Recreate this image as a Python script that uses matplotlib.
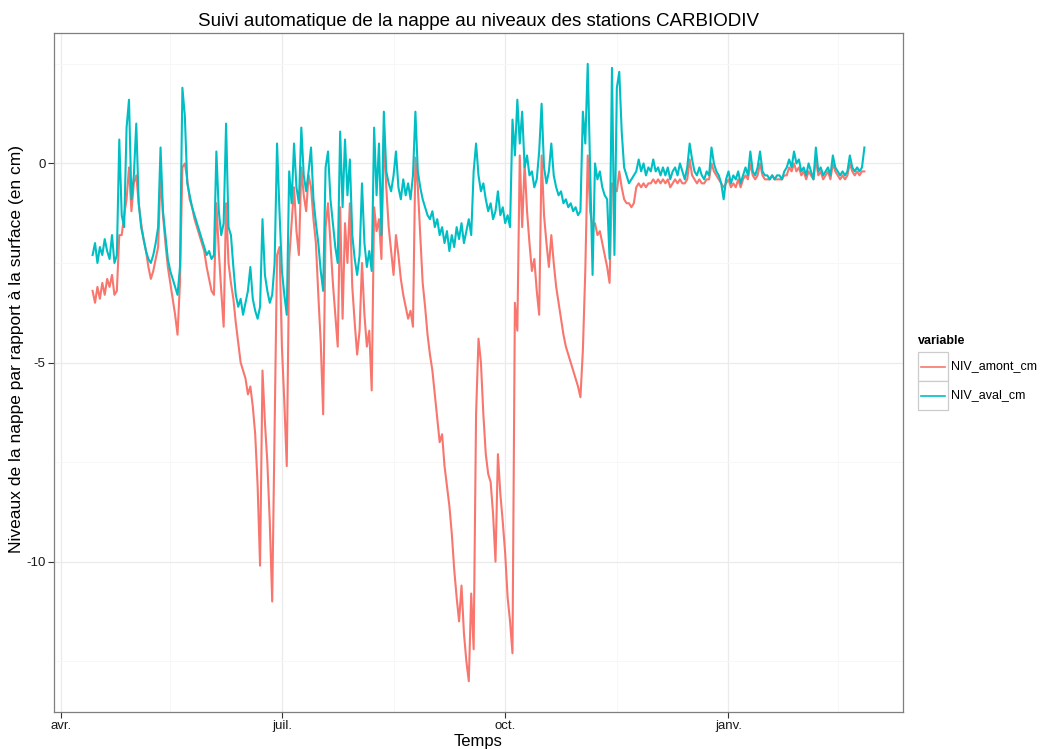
import numpy as np
import pandas as pd
import matplotlib
matplotlib.use("Agg")
import matplotlib.pyplot as plt
from matplotlib.patches import Rectangle
from matplotlib.lines import Line2D

plt.rcParams['font.family'] = ['Liberation Sans', 'DejaVu Sans']
plt.rcParams['axes.unicode_minus'] = False

# daily readings, starting 2014-04-14
start_date = "2014-04-14"

niv_aval_cm = [
    -2.3, -2.0, -2.5, -2.1, -2.3, -1.9, -2.2, -2.4, -1.8, -2.5,
    -2.3, 0.6, -1.3, -1.6, 0.9, 1.6, -0.9, -0.3, 1.0, -1.0,
    -1.6, -1.9, -2.2, -2.4, -2.5, -2.3, -2.0, -1.6, 0.4, -1.2,
    -1.8, -2.4, -2.7, -2.9, -3.1, -3.3, -2.6, 1.9, 1.2, -0.5,
    -0.8, -1.1, -1.3, -1.5, -1.7, -1.9, -2.1, -2.3, -2.2, -2.4,
    -2.3, 0.3, -1.2, -1.8, -1.5, 1.0, -1.6, -1.8, -2.6, -3.3,
    -3.6, -3.4, -3.8, -3.5, -3.2, -2.6, -3.4, -3.7, -3.9, -3.6,
    -1.4, -2.8, -3.2, -3.5, -3.3, -2.5, 0.5, -1.2, -2.7, -3.3,
    -3.8, -0.2, -1.0, 0.5, -0.6, -1.0, 0.9, -0.3, -0.7, -0.2,
    0.4, -0.9, -1.5, -2.0, -2.7, -3.2, -0.1, 0.3, -0.9, -1.5,
    -2.1, -2.5, 0.8, -1.1, 0.6, -0.8, 0.1, -1.8, -2.4, -2.8,
    -2.3, -0.5, -2.0, -2.6, -2.2, -2.7, 0.9, -0.8, 0.5, -1.8,
    1.3, -0.2, -0.5, -0.7, -0.3, 0.3, -0.6, -0.9, -0.4, -0.8,
    -0.5, -0.9, -0.3, 1.3, -0.2, -0.6, -0.9, -1.1, -1.3, -1.4,
    -1.2, -1.6, -1.4, -1.8, -1.6, -2.0, -1.7, -2.2, -1.8, -2.1,
    -1.6, -1.9, -1.5, -2.0, -1.7, -1.4, -1.8, -0.2, 0.5, -0.3,
    -0.7, -0.5, -0.9, -1.2, -1.0, -1.4, -1.2, -0.7, -1.3, -1.1,
    -1.5, -1.3, -1.6, 1.1, 0.2, 1.6, 0.5, 1.3, -0.1, 0.2,
    -0.3, -0.2, -0.6, -0.4, 0.3, 1.5, -0.1, -0.5, -0.2, 0.5,
    -0.3, -0.6, -0.8, -0.7, -1.0, -0.9, -1.1, -1.0, -1.2, -1.1,
    -1.3, -1.2, 1.3, 0.5, 2.5, -0.2, -2.8, 0.0, -0.4, -0.2,
    -0.6, -0.8, -0.9, -2.4, 2.4, -2.3, 1.9, 2.3, 0.8, -0.1,
    -0.3, -0.5, -0.4, -0.3, -0.2, 0.1, -0.2, 0.0, -0.3, -0.1,
    -0.2, 0.1, -0.2, -0.1, -0.3, -0.1, -0.3, -0.1, -0.4, -0.2,
    -0.1, -0.3, 0.0, -0.2, -0.4, -0.1, 0.5, 0.1, -0.2, -0.3,
    -0.1, -0.3, -0.4, -0.2, -0.3, 0.4, 0.0, -0.2, -0.3, -0.5,
    -0.9, -0.4, -0.2, -0.5, -0.3, -0.4, -0.2, -0.5, -0.3, -0.1,
    -0.3, 0.3, -0.2, -0.3, -0.1, 0.3, -0.2, -0.3, -0.3, -0.4,
    -0.3, -0.4, -0.3, -0.3, -0.4, -0.2, -0.1, 0.1, -0.1, 0.3,
    0.0, 0.1, -0.2, -0.1, -0.3, 0.0, -0.2, -0.4, 0.4, -0.2,
    -0.1, -0.3, -0.2, -0.1, -0.3, 0.2, -0.1, -0.2, -0.3, -0.2,
    -0.3, -0.2, 0.2, -0.1, -0.2, -0.1, -0.2, -0.1, 0.4,
]

niv_amont_cm = [
    -3.2, -3.5, -3.1, -3.4, -3.0, -3.3, -2.9, -3.1, -2.8, -3.3,
    -3.2, -1.8, -1.8, -1.3, -0.9, -0.1, -1.2, -0.5, -0.3, -1.0,
    -1.5, -1.9, -2.2, -2.6, -2.9, -2.7, -2.4, -2.1, -0.3, -1.3,
    -2.0, -2.6, -3.0, -3.4, -3.8, -4.3, -3.0, -0.1, 0.0, -0.4,
    -0.9, -1.1, -1.4, -1.6, -1.8, -2.0, -2.2, -2.6, -2.9, -3.2,
    -3.3, -1.0, -2.2, -3.2, -4.1, -1.0, -2.5, -3.0, -3.4, -4.0,
    -4.5, -5.0, -5.2, -5.4, -5.8, -5.6, -6.1, -6.8, -8.1, -10.1,
    -5.2, -6.5, -7.5, -9.0, -11.0, -6.6, -2.3, -2.1, -4.6, -6.0,
    -7.6, -2.4, -1.5, -0.6, -1.7, -2.3, -0.1, -0.8, -1.2, -0.3,
    -0.6, -1.4, -2.0, -3.3, -4.5, -6.3, -1.6, -1.0, -2.0, -3.0,
    -3.8, -4.6, -1.1, -3.9, -1.5, -2.5, -1.0, -3.1, -4.0, -4.8,
    -4.2, -2.5, -3.8, -4.6, -4.2, -5.7, -1.1, -1.7, -1.4, -2.4,
    0.7, -0.6, -1.6, -2.2, -2.8, -1.8, -2.3, -2.9, -3.3, -3.6,
    -3.9, -3.7, -4.1, 0.15, -0.6, -1.8, -3.0, -3.6, -4.3, -4.8,
    -5.2, -5.8, -6.4, -7.0, -6.8, -7.6, -8.1, -8.6, -9.3, -10.2,
    -10.9, -11.5, -10.6, -11.8, -12.5, -13.0, -10.8, -12.2, -6.3, -4.4,
    -5.0, -6.3, -7.3, -7.8, -8.0, -8.8, -10.0, -7.3, -8.3, -9.0,
    -9.8, -10.9, -11.5, -12.3, -3.5, -4.2, 0.2, -1.6, 0.0, -1.2,
    -2.0, -2.7, -2.4, -3.2, -3.8, 0.2, -1.3, -2.0, -2.6, -1.8,
    -2.5, -3.1, -3.5, -3.9, -4.3, -4.6, -4.8, -5.0, -5.2, -5.4,
    -5.6, -5.87, -4.7, -2.7, 0.2, -1.2, -1.6, -1.5, -1.8, -1.7,
    -2.0, -2.3, -2.6, -3.0, -0.5, -0.6, -0.7, -0.2, -0.6, -0.9,
    -1.0, -1.0, -1.1, -1.0, -0.6, -0.5, -0.6, -0.5, -0.6, -0.5,
    -0.5, -0.4, -0.5, -0.4, -0.5, -0.4, -0.5, -0.4, -0.6, -0.5,
    -0.4, -0.5, -0.4, -0.5, -0.5, -0.4, 0.1, -0.3, -0.4, -0.5,
    -0.4, -0.5, -0.5, -0.4, -0.4, 0.0, -0.2, -0.3, -0.4, -0.5,
    -0.6, -0.5, -0.4, -0.6, -0.5, -0.6, -0.4, -0.6, -0.4, -0.3,
    -0.4, 0.0, -0.3, -0.4, -0.3, 0.0, -0.3, -0.4, -0.4, -0.4,
    -0.3, -0.4, -0.4, -0.4, -0.4, -0.3, -0.3, -0.1, -0.2, 0.0,
    -0.2, -0.1, -0.3, -0.2, -0.4, -0.2, -0.3, -0.4, 0.1, -0.3,
    -0.2, -0.4, -0.3, -0.2, -0.4, 0.0, -0.2, -0.3, -0.4, -0.3,
    -0.4, -0.3, 0.0, -0.2, -0.3, -0.2, -0.3, -0.2, -0.2,
]

series_names = ["NIV_amont_cm", "NIV_aval_cm"]
series_colors = ["#F8766D", "#00BFC4"]
tick_dates = ["2014-04-01", "2014-07-01", "2014-10-01", "2015-01-01"]
tick_labels = ["avr.", "juil.", "oct.", "janv."]
minor_dates = ["2014-05-16", "2014-08-16", "2014-11-16", "2015-02-15"]

W, H = 1040, 749
dates = pd.date_range(start_date, periods=len(niv_aval_cm), freq="D")

fig = plt.figure(figsize=(W / 100, H / 100), dpi=100)
ax = fig.add_axes([54 / W, 37 / H, 849 / W, 679 / H])

for vals, col in zip([niv_amont_cm, niv_aval_cm], series_colors):
    ax.plot(dates, vals, color=col, lw=1.5, zorder=3)

ax.margins(x=0.05, y=0.05)

ax.set_xticks(pd.to_datetime(tick_dates))
ax.set_xticklabels(tick_labels)
ax.set_xticks(pd.to_datetime(minor_dates), minor=True)
ax.set_yticks([-10, -5, 0])
ax.set_yticklabels(["-10", "-5", "0"])
ax.set_yticks([-12.5, -7.5, -2.5, 2.5], minor=True)

ax.grid(which="major", color="#EBEBEB", lw=0.9, zorder=0)
ax.grid(which="minor", color="#F7F7F7", lw=0.7, zorder=0)
ax.set_axisbelow(True)
for s in ax.spines.values():
    s.set_color("#7F7F7F")
    s.set_linewidth(0.9)
ax.tick_params(which="major", length=4, width=0.8, color="#333333",
               labelsize=9.5, labelcolor="#1A1A1A", pad=2)
ax.tick_params(which="minor", length=0)

ax.set_title("Suivi automatique de la nappe au niveaux des stations CARBIODIV",
             fontsize=13.5, pad=5)
ax.set_xlabel("Temps", fontsize=12, labelpad=1)
fig.text(17 / W, 1 - 349 / H,
         "Niveaux de la nappe par rapport \u00e0 la surface (en cm)",
         rotation=90, ha="center", va="center", fontsize=12.5)

# legend drawn on the figure
def fx(px):
    return px / W

def fy(py):
    return 1 - py / H

fig.text(fx(918), fy(341), "variable", fontsize=9, fontweight="bold",
         ha="left", va="center")
for i, (name, col) in enumerate(zip(series_names, series_colors)):
    top = 352 + i * 29
    fig.patches.append(Rectangle((fx(918), fy(top + 29)), 30 / W, 29 / H,
                                 transform=fig.transFigure, facecolor="white",
                                 edgecolor="#CCCCCC", lw=0.9))
    fig.lines.append(Line2D([fx(921), fx(945)], [fy(top + 14.5)] * 2,
                            transform=fig.transFigure, color=col, lw=1.2))
    fig.text(fx(951), fy(top + 14.5), name, fontsize=9, ha="left", va="center")

fig.savefig("out.png", dpi=100)
